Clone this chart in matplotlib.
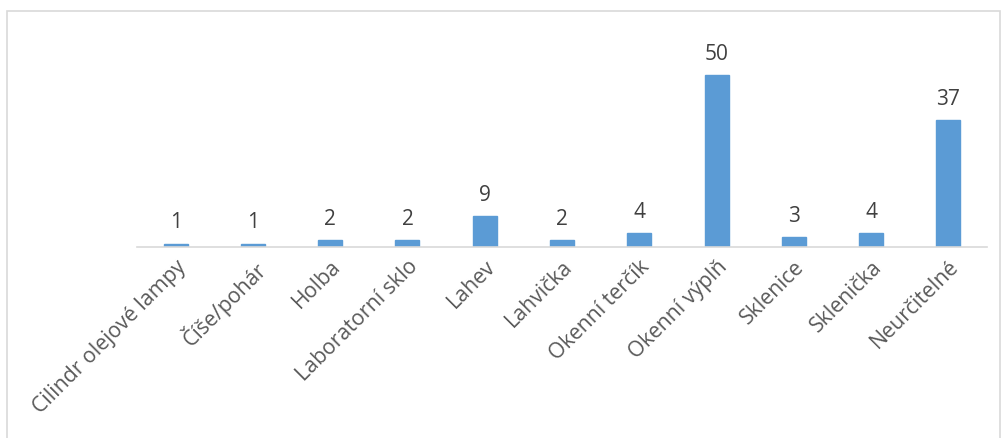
import matplotlib
matplotlib.use("Agg")
import matplotlib.pyplot as plt
from matplotlib.patches import Rectangle

categories = ["Cilindr olejové lampy", "Číše/pohár", "Holba", "Laboratorní sklo", "Lahev",
              "Lahvička", "Okenní terčík", "Okenní výplň", "Sklenice", "Sklenička", "Neurčitelné"]
values = [1, 1, 2, 2, 9, 2, 4, 50, 3, 4, 37]

plt.rcParams['font.family'] = ['Open Sans', 'DejaVu Sans']

W, H = 1003, 439
fig = plt.figure(figsize=(W / 100, H / 100), dpi=100)
ax = fig.add_axes([137 / W, 1 - 248 / H, (987 - 137) / W, (248 - 21) / H])

x = list(range(len(categories)))
bars = ax.bar(x, values, width=0.31, color="#5b9bd5", edgecolor="#5b9bd5")
ax.set_xlim(-0.5, len(categories) - 0.5)
ax.set_ylim(0, 227 / 3.44)

for xi, v in zip(x, values):
    ax.annotate(str(v), (xi, v), xytext=(0, 8), textcoords="offset points",
                ha="center", va="bottom", fontsize=15, color="#404040")

for s in ["top", "right", "left"]:
    ax.spines[s].set_visible(False)
ax.spines["bottom"].set_color("#d9d9d9")
ax.spines["bottom"].set_linewidth(1.2)
ax.set_yticks([])
ax.set_xticks(x)
ax.set_xticklabels(categories, rotation=45, ha="right", rotation_mode="anchor",
                   fontsize=15.3, color="#595959")
ax.tick_params(axis="x", length=0, pad=6)

fig.patches.append(Rectangle((7 / W, -0.01), (1000 - 7) / W, (H - 12) / H + 0.01,
                             transform=fig.transFigure, fill=False,
                             edgecolor="#d9d9d9", linewidth=1.2))

fig.savefig("out.png", dpi=100)
